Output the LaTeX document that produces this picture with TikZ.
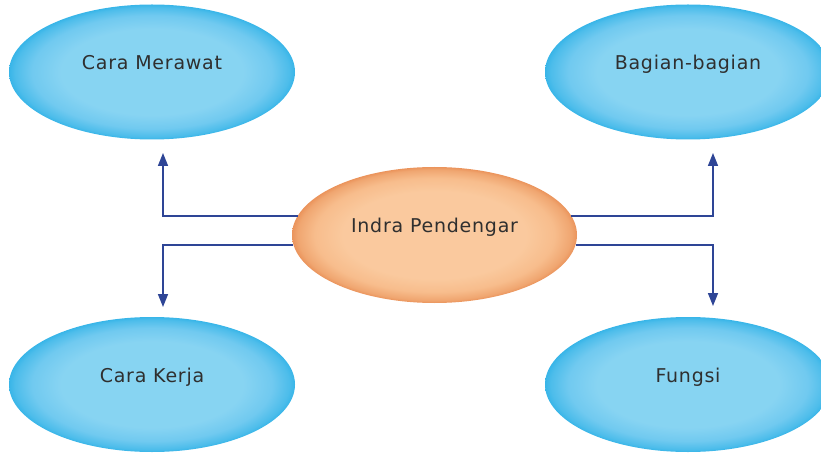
\documentclass[tikz,border=0pt]{standalone}
\usepackage{fontspec}
\setmainfont[LetterSpace=4]{DejaVu Sans}
\usetikzlibrary{shapes.geometric,arrows.meta}
\definecolor{lineblue}{HTML}{2E4596}
\definecolor{txt}{HTML}{2F2F2F}
\pgfdeclareradialshading{blueglow}{\pgfpoint{0bp}{0bp}}{rgb(0bp)=(0.53,0.83,0.95); rgb(16bp)=(0.53,0.83,0.95); rgb(21bp)=(0.44,0.79,0.94); rgb(24bp)=(0.30,0.74,0.92); rgb(25bp)=(0.22,0.71,0.91); rgb(50bp)=(0.22,0.71,0.91)}
\pgfdeclareradialshading{orangeglow}{\pgfpoint{0bp}{0bp}}{rgb(0bp)=(0.98,0.79,0.62); rgb(16bp)=(0.98,0.79,0.62); rgb(21bp)=(0.97,0.74,0.55); rgb(24bp)=(0.94,0.65,0.44); rgb(25bp)=(0.92,0.58,0.36); rgb(50bp)=(0.92,0.58,0.36)}
\tikzset{
  bub/.style={ellipse, minimum width=286pt, minimum height=135pt, inner sep=0pt,
    shade, shading=blueglow, text=txt, font=\fontsize{19}{22}\selectfont,
    text height=12pt, text depth=17pt},
  hub/.style={bub, shading=orangeglow},
  conn/.style={draw=lineblue, line width=1.6pt, -{Triangle[length=13pt,width=10pt]}}
}
\begin{document}
\begin{tikzpicture}[x=1pt,y=-1pt]
\useasboundingbox (0,0) rectangle (821,454);
\node[bub] (tl) at (152,72) {Cara Merawat};
\node[bub] (tr) at (688,72) {Bagian-bagian};
\node[bub] (bl) at (152,384.5) {Cara Kerja};
\node[bub] (br) at (688,384.5) {Fungsi};
\node[hub, minimum width=285pt, minimum height=136pt] (c) at (434.5,235) {Indra Pendengar};
\coordinate (tlend) at (163,153);
\coordinate (blend) at (163,307);
\coordinate (trend) at (713,153);
\coordinate (brend) at (713,306);
\draw[conn] (c.172) -| (tlend);
\draw[conn] (c.184) -| (blend);
\draw[conn] (c.8) -| (trend);
\draw[conn] (c.356) -| (brend);
\end{tikzpicture}
\end{document}
